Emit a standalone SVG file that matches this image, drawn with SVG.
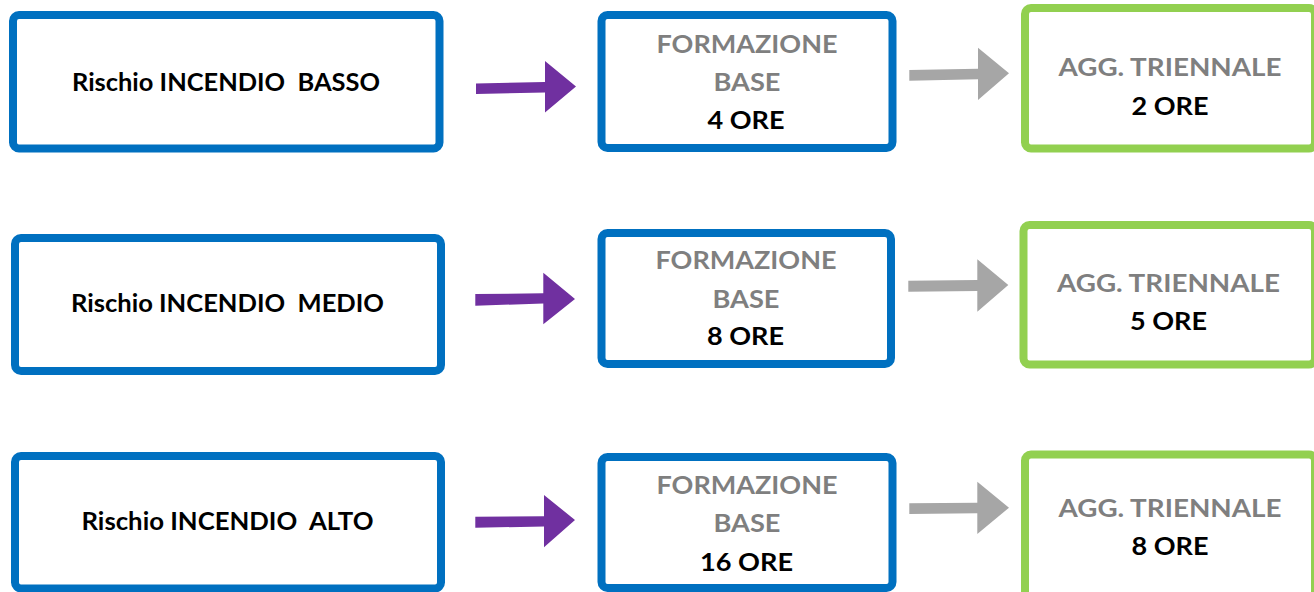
<svg xmlns="http://www.w3.org/2000/svg" width="1314" height="592" viewBox="0 0 1314 592">
<style>
.blue{fill:#ffffff;stroke:#0070c0;stroke-width:8}
.green{fill:#ffffff;stroke:#92d050;stroke-width:8}
text{font-family:Lato,"Open Sans","Liberation Sans",sans-serif;font-weight:700;font-size:25px;text-anchor:middle}
.blk{fill:#000000}
.gry{fill:#7f7f7f}
.pa{fill:#7030a0}
.ga{fill:#a6a6a6}
</style>
<rect width="1314" height="592" fill="#ffffff"/>
<g id="risk-basso">
<rect class="blue" x="13" y="15" width="426.5" height="133.5" rx="6"/>
<text class="blk" x="226" y="91" textLength="308" lengthAdjust="spacingAndGlyphs" xml:space="preserve">Rischio INCENDIO  BASSO</text>
</g>
<g id="base-4">
<rect class="blue" x="601.5" y="15" width="291" height="133" rx="6"/>
<text class="gry" x="747" y="52.5" textLength="181" lengthAdjust="spacingAndGlyphs">FORMAZIONE</text>
<text class="gry" x="747" y="91" textLength="67" lengthAdjust="spacingAndGlyphs">BASE</text>
<text class="blk" x="746" y="129" textLength="77" lengthAdjust="spacingAndGlyphs">4 ORE</text>
</g>
<g id="agg-2">
<rect class="green" x="1025" y="8" width="290" height="140.5" rx="6"/>
<text class="gry" x="1170" y="76" textLength="223" lengthAdjust="spacingAndGlyphs">AGG. TRIENNALE</text>
<text class="blk" x="1170" y="114.5" textLength="77" lengthAdjust="spacingAndGlyphs">2 ORE</text>
</g>
<g id="risk-medio">
<rect class="blue" x="15" y="238" width="426" height="133" rx="6"/>
<text class="blk" x="227.5" y="312" textLength="313" lengthAdjust="spacingAndGlyphs" xml:space="preserve">Rischio INCENDIO  MEDIO</text>
</g>
<g id="base-8">
<rect class="blue" x="601.5" y="233" width="289.5" height="131" rx="6"/>
<text class="gry" x="746" y="268.5" textLength="181" lengthAdjust="spacingAndGlyphs">FORMAZIONE</text>
<text class="gry" x="746" y="307.5" textLength="67" lengthAdjust="spacingAndGlyphs">BASE</text>
<text class="blk" x="745.5" y="345" textLength="77" lengthAdjust="spacingAndGlyphs">8 ORE</text>
</g>
<g id="agg-5">
<rect class="green" x="1023.5" y="225" width="291.5" height="139.5" rx="6"/>
<text class="gry" x="1168.5" y="292" textLength="223" lengthAdjust="spacingAndGlyphs">AGG. TRIENNALE</text>
<text class="blk" x="1168.5" y="330" textLength="77" lengthAdjust="spacingAndGlyphs">5 ORE</text>
</g>
<g id="risk-alto">
<rect class="blue" x="15" y="456" width="426" height="132.5" rx="6"/>
<text class="blk" x="227.5" y="529.5" textLength="292" lengthAdjust="spacingAndGlyphs" xml:space="preserve">Rischio INCENDIO  ALTO</text>
</g>
<g id="base-16">
<rect class="blue" x="601.5" y="457" width="291" height="131" rx="6"/>
<text class="gry" x="747" y="493.5" textLength="181" lengthAdjust="spacingAndGlyphs">FORMAZIONE</text>
<text class="gry" x="747" y="532" textLength="67" lengthAdjust="spacingAndGlyphs">BASE</text>
<text class="blk" x="746.5" y="571" textLength="93" lengthAdjust="spacingAndGlyphs">16 ORE</text>
</g>
<g id="agg-8">
<rect class="green" x="1025" y="454.5" width="290" height="145" rx="6"/>
<text class="gry" x="1170" y="517" textLength="223" lengthAdjust="spacingAndGlyphs">AGG. TRIENNALE</text>
<text class="blk" x="1170" y="554.5" textLength="77" lengthAdjust="spacingAndGlyphs">8 ORE</text>
</g>
<g id="connectors">
<polygon class="pa" points="476,83.5 545,82 545,61 576,86.5 545,112.5 545,92.5 476,94"/>
<polygon class="pa" points="475.3,294 543.3,293.3 543.3,272.7 575,299 543.3,324.3 543.3,303.5 475.3,305.7"/>
<polygon class="pa" points="475.3,516.7 544,516.3 544,495 575,520 544,547.3 544,526.5 475.3,527.7"/>
<polygon class="ga" points="909.3,70 978,68.7 978,47.7 1009,73.3 978,100 978,79.3 909.3,80.7"/>
<polygon class="ga" points="908.3,280.7 977.3,280 977.3,259.3 1008.3,285 977.3,311.7 977.3,291 908.3,291.7"/>
<polygon class="ga" points="909.3,503.3 977.3,502.7 977.3,481.7 1009,507.7 977.3,534 977.3,513.3 909.3,514"/>
</g>
</svg>
